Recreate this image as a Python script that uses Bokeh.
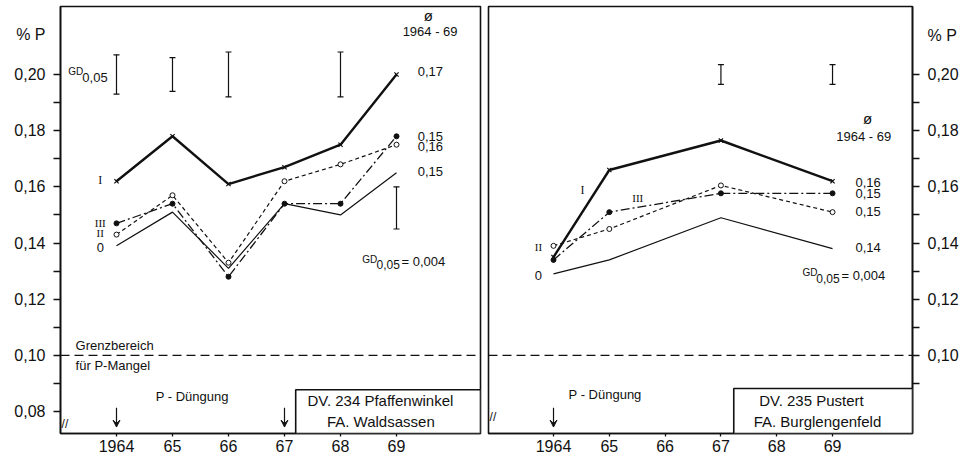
from bokeh.plotting import figure
from bokeh.layouts import row
from bokeh.models import Label, Span, FixedTicker, Arrow, VeeHead, BoxAnnotation, Range1d
from bokeh.embed import file_html
from bokeh.resources import INLINE

# ---------------- data ----------------
years_a = [1964, 1965, 1966, 1967, 1968, 1969]
a_I = [0.162, 0.178, 0.161, 0.167, 0.175, 0.200]
a_II = [0.143, 0.157, 0.133, 0.162, 0.168, 0.175]
a_III = [0.147, 0.154, 0.128, 0.154, 0.154, 0.178]
a_0 = [0.139, 0.151, 0.131, 0.154, 0.150, 0.165]
gd_a_x = [1964, 1965, 1966, 1968, 1969]
gd_a_lo = [0.193, 0.194, 0.192, 0.192, 0.145]
gd_a_hi = [0.207, 0.206, 0.208, 0.208, 0.160]
mean_a_labels = ["0,17", "0,15", "0,16", "0,15"]
mean_a_y = [0.201, 0.178, 0.1744, 0.1655]
duengung_a = [1964, 1967]

years_b = [1964, 1965, 1967, 1969]
b_I = [0.135, 0.166, 0.1765, 0.162]
b_II = [0.139, 0.145, 0.1605, 0.151]
b_III = [0.134, 0.151, 0.1577, 0.1577]
b_0 = [0.129, 0.134, 0.149, 0.138]
gd_b_x = [1967, 1969]
gd_b_lo = [0.1965, 0.1965]
gd_b_hi = [0.2035, 0.2035]
mean_b_labels = ["0,16", "0,15", "0,15", "0,14"]
mean_b_y = [0.1614, 0.1578, 0.1511, 0.1383]
duengung_b = [1964]

x_ticks = [1964, 1965, 1966, 1967, 1968, 1969]
x_tick_labels = ["1964", "65", "66", "67", "68", "69"]
# the unit label "% P" sits as a tick label above the scale
ya_ticks = [0.08, 0.10, 0.12, 0.14, 0.16, 0.18, 0.20, 0.2142]
ya_tick_labels = ["0,08", "0,10", "0,12", "0,14", "0,16", "0,18", "0,20", "% P"]
ya_marks = [0.08, 0.09, 0.10, 0.11, 0.12, 0.13, 0.14, 0.15, 0.16, 0.17, 0.18, 0.19, 0.20]
yb_ticks = [0.10, 0.12, 0.14, 0.16, 0.18, 0.20, 0.2137]
yb_tick_labels = ["0,10", "0,12", "0,14", "0,16", "0,18", "0,20", "% P"]
yb_marks = [0.09, 0.10, 0.11, 0.12, 0.13, 0.14, 0.15, 0.16, 0.17, 0.18, 0.19, 0.20]

FONT = "Liberation Sans"
SERIF = "Liberation Serif"
INK = "#111111"


def lab(p, x, y, text, size=13, align="left", baseline="middle", font=FONT):
    p.add_layout(Label(x=x, y=y, text=text, text_font=font, text_font_size=f"{size}px",
                       text_align=align, text_baseline=baseline, text_color=INK))


def make_fig(xr, width, yside, bl, br, ticks, labels, marks):
    p = figure(width=width, height=458, x_range=Range1d(*xr), y_range=Range1d(0.0722, 0.2242),
               output_backend="svg", toolbar_location=None, y_axis_location=yside,
               min_border_left=bl, min_border_right=br, min_border_top=6, min_border_bottom=25)
    p.grid.visible = False
    p.background_fill_color = "white"
    p.border_fill_color = "white"
    p.outline_line_color = INK
    p.outline_line_width = 1.6
    p.outline_line_alpha = 1
    xa = p.xaxis[0]
    xa.ticker = FixedTicker(ticks=x_ticks)
    xa.major_label_overrides = dict(zip(x_ticks, x_tick_labels))
    xa.major_tick_out = 3
    xa.major_tick_in = 0
    xa.minor_tick_out = 0
    xa.major_tick_line_color = INK
    xa.major_tick_line_width = 1.3
    xa.axis_line_width = 1.6
    xa.axis_line_color = INK
    xa.major_label_standoff = 3
    xa.major_label_text_font = FONT
    xa.major_label_text_font_size = "16px"
    xa.major_label_text_color = INK
    ya = p.yaxis[0]
    ya.ticker = FixedTicker(ticks=ticks, minor_ticks=marks)
    ya.major_label_overrides = dict(zip(ticks, labels))
    ya.major_tick_out = 0
    ya.major_tick_in = 0
    ya.minor_tick_out = 7
    ya.minor_tick_in = 0
    ya.minor_tick_line_color = INK
    ya.minor_tick_line_width = 1.4
    ya.major_label_standoff = 8
    ya.axis_line_width = 1.6
    ya.axis_line_color = INK
    ya.major_label_text_font = FONT
    ya.major_label_text_font_size = "16px"
    ya.major_label_text_color = INK
    p.add_layout(Span(location=0.10, dimension="width", line_color=INK, line_width=1.3,
                      line_dash="9 5"))
    return p


def draw_series(p, xs, s_I, s_II, s_III, s_0):
    p.line(xs, s_0, line_color=INK, line_width=1.2)
    p.line(xs, s_III, line_color=INK, line_width=1.3, line_dash="9 3 2 3")
    p.scatter(xs, s_III, marker="circle", size=5, fill_color=INK, line_color=INK)
    p.line(xs, s_II, line_color=INK, line_width=1.2, line_dash="4 3")
    p.scatter(xs, s_II, marker="circle", size=5, fill_color="white", line_color=INK, line_width=1)
    p.line(xs, s_I, line_color=INK, line_width=2.4)
    p.scatter(xs, s_I, marker="x", size=6, line_color=INK, line_width=1.2)


def draw_gd(p, gx, lo, hi):
    p.segment(x0=gx, y0=lo, x1=gx, y1=hi, line_color=INK, line_width=1.2)
    p.scatter(gx, lo, marker="dash", size=6, line_color=INK, line_width=1.2)
    p.scatter(gx, hi, marker="dash", size=6, line_color=INK, line_width=1.2)


def draw_arrows(p, xs):
    for x in xs:
        p.add_layout(Arrow(x_start=x, y_start=0.0814, x_end=x, y_end=0.0745, line_color=INK,
                           line_width=1.2, end=VeeHead(size=7, line_color=INK, fill_color=INK,
                                                       line_width=1)))


def draw_box(p, left, right, top):
    p.add_layout(BoxAnnotation(left=left, right=right, bottom=0.0722, top=top,
                               fill_color="white", fill_alpha=1, line_color=INK,
                               line_alpha=1, line_width=1.6))


# ---------------- left panel ----------------
pa = make_fig((1963.0, 1970.5), 484, "left", 60, 4, ya_ticks, ya_tick_labels, ya_marks)
draw_series(pa, years_a, a_I, a_II, a_III, a_0)
draw_gd(pa, gd_a_x, gd_a_lo, gd_a_hi)
draw_arrows(pa, duengung_a)
draw_box(pa, 1967.2, 1970.5, 0.0878)
lab(pa, 1968.75, 0.0840, "DV. 234  Pfaffenwinkel", 15, "center")
lab(pa, 1968.72, 0.0765, "FA. Waldsassen", 15, "center")
lab(pa, 1963.14, 0.2012, "GD", 10)
lab(pa, 1963.39, 0.1990, "0,05", 13)
lab(pa, 1969.57, 0.2210, "ø", 15, "center")
lab(pa, 1969.6, 0.2153, "1964 - 69", 13, "center")
for t, y in zip(mean_a_labels, mean_a_y):
    lab(pa, 1969.38, y, t, 13)
lab(pa, 1968.39, 0.1343, "GD", 10)
lab(pa, 1968.643, 0.1322, "0,05", 12)
lab(pa, 1969.09, 0.1333, "= 0,004", 13)
lab(pa, 1963.71, 0.1623, "I", 12, "center", font=SERIF)
lab(pa, 1963.71, 0.1470, "III", 11, "center", font=SERIF)
lab(pa, 1963.71, 0.1434, "II", 11, "center", font=SERIF)
lab(pa, 1963.71, 0.1384, "0", 13, "center")
lab(pa, 1963.27, 0.1036, "Grenzbereich", 13)
lab(pa, 1963.27, 0.0964, "für P-Mangel", 13)
lab(pa, 1964.70, 0.0852, "P - Düngung", 13)
lab(pa, 1963.02, 0.0757, "//", 12, "left")

# ---------------- right panel ----------------
pb = make_fig((1962.835, 1970.433), 484, "right", 4, 56, yb_ticks, yb_tick_labels, yb_marks)
draw_series(pb, years_b, b_I, b_II, b_III, b_0)
draw_gd(pb, gd_b_x, gd_b_lo, gd_b_hi)
draw_arrows(pb, duengung_b)
draw_box(pb, 1967.23, 1970.433, 0.0882)
lab(pb, 1968.66, 0.0840, "DV. 235  Pustert", 15, "center")
lab(pb, 1968.73, 0.0765, "FA. Burglengenfeld", 15, "center")
lab(pb, 1969.63, 0.1845, "ø", 15, "center")
lab(pb, 1969.56, 0.1778, "1964 - 69", 13, "center")
for t, y in zip(mean_b_labels, mean_b_y):
    lab(pb, 1969.41, y, t, 13)
lab(pb, 1968.46, 0.1295, "GD", 10)
lab(pb, 1968.71, 0.1274, "0,05", 12)
lab(pb, 1969.16, 0.1285, "= 0,004", 13)
lab(pb, 1964.52, 0.1589, "I", 12, "center", font=SERIF)
lab(pb, 1965.51, 0.1560, "III", 11, "center", font=SERIF)
lab(pb, 1963.73, 0.1386, "II", 11, "center", font=SERIF)
lab(pb, 1963.73, 0.1283, "0", 13, "center")
lab(pb, 1964.27, 0.0862, "P - Düngung", 13)
lab(pb, 1962.855, 0.0780, "//", 12, "left")

layout = row(pa, pb)
open("out.html", "w").write(file_html(layout, INLINE))
